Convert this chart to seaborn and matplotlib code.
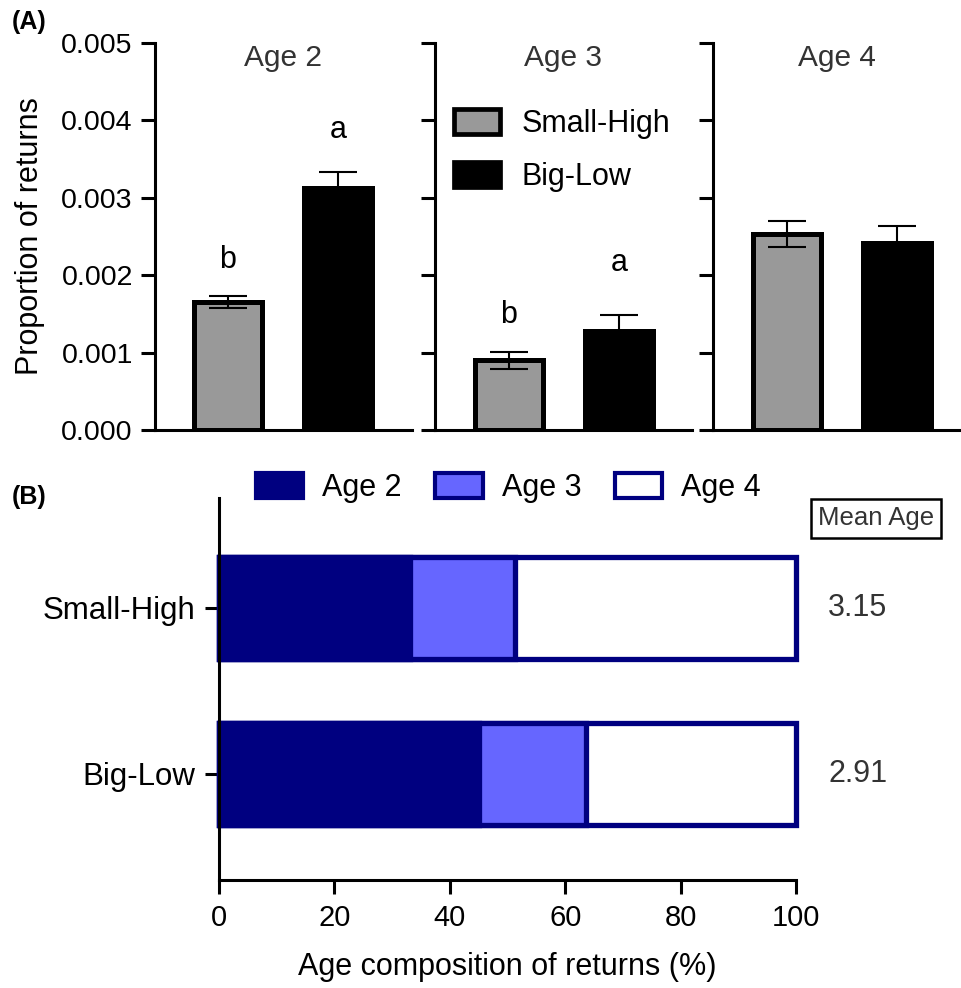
import matplotlib
matplotlib.use("Agg")
import matplotlib.pyplot as plt
from matplotlib.patches import Patch
import seaborn as sns
import pandas as pd

# ---------------- data ----------------
groups = ["Small-High", "Big-Low"]
ages = ["Age 2", "Age 3", "Age 4"]

# Panel A: proportion of returns (mean, SEM) per age class
prop_small_high = [0.00165, 0.00090, 0.00253]
prop_big_low = [0.00313, 0.00128, 0.00242]
sem_small_high = [0.00008, 0.00011, 0.00017]
sem_big_low = [0.00020, 0.00020, 0.00021]
sig_letters = [("b", "a"), ("b", "a"), ("", "")]
letter_y = [(0.00220, 0.00388), (0.00149, 0.00216), (None, None)]

# Panel B: age composition (%)
comp_age2 = [33.1, 45.1]
comp_age3 = [18.2, 18.5]
comp_age4 = [48.7, 36.4]
mean_age = ["3.15", "2.91"]

y_ticks_a = [0.000, 0.001, 0.002, 0.003, 0.004, 0.005]
x_ticks_b = [0, 20, 40, 60, 80, 100]

# ---------------- style ----------------
sns.set_theme(style="ticks")
plt.rcParams["font.family"] = ["Liberation Sans", "DejaVu Sans"]
plt.rcParams["axes.linewidth"] = 2.2
plt.rcParams["axes.edgecolor"] = "black"
plt.rcParams["xtick.color"] = "black"
plt.rcParams["ytick.color"] = "black"
plt.rcParams["text.color"] = "black"
plt.rcParams["axes.labelcolor"] = "black"

W, H = 962, 988
fig = plt.figure(figsize=(W / 100, H / 100), dpi=100)


def rect(x0, y0, x1, y1):
    return [x0 / W, 1 - y1 / H, (x1 - x0) / W, (y1 - y0) / H]


GREY = "#999999"
NAVY = "#000080"
LIGHT = "#6666FF"
TXT = "#333333"

panel_rects = [rect(155, 43, 412, 430), rect(435, 43, 692, 430), rect(713, 43, 960, 430)]
panel_xlims = [(-0.664, 1.673), (-0.673, 1.664), (-0.673, 1.573)]

for i, age in enumerate(ages):
    ax = fig.add_axes(panel_rects[i])
    df = pd.DataFrame({"group": groups,
                       "value": [prop_small_high[i], prop_big_low[i]]})
    sns.barplot(data=df, x="group", y="value", hue="group", order=groups,
                hue_order=groups, palette={"Small-High": GREY, "Big-Low": "black"},
                width=0.62, edgecolor="black", linewidth=3.6, errorbar=None,
                legend=False, ax=ax)
    ax.errorbar([0, 1], [prop_small_high[i], prop_big_low[i]],
                yerr=[sem_small_high[i], sem_big_low[i]], fmt="none",
                ecolor="black", elinewidth=1.5, capsize=13.5, capthick=1.5,
                zorder=5)
    ax.set_xlim(*panel_xlims[i])
    ax.set_ylim(0, 0.005)
    ax.set_yticks(y_ticks_a)
    ax.tick_params(axis="y", length=10, width=2.2, pad=6, labelsize=20.5,
                   color="black", labelcolor="black")
    ax.set_xticks([])
    ax.set_xlabel("")
    sns.despine(ax=ax)
    if i == 0:
        ax.set_yticklabels([f"{t:.3f}" for t in y_ticks_a])
        ax.set_ylabel("Proportion of returns", fontsize=22, labelpad=12,
                      color="black")
    else:
        ax.set_yticklabels([])
        ax.set_ylabel("")
    ax.text(0.5, 0.961, age, transform=ax.transAxes, ha="center", va="center",
            fontsize=21.5, color=TXT)
    for j in range(2):
        if sig_letters[i][j]:
            ax.text(j, letter_y[i][j], sig_letters[i][j], ha="center",
                    va="center", fontsize=22, color="black")
    if i == 1:
        handles_a = [Patch(facecolor=GREY, edgecolor="black", linewidth=3.4),
                     Patch(facecolor="black", edgecolor="black", linewidth=3.4)]
        ax.legend(handles_a, groups, loc="upper left",
                  bbox_to_anchor=(454 / W, 1 - 109 / H),
                  bbox_transform=fig.transFigure, frameon=False, fontsize=22,
                  handlelength=1.5, handleheight=0.85, handletextpad=0.7,
                  labelspacing=0.75, borderpad=0, borderaxespad=0)

# ---------------- panel B ----------------
axb = fig.add_axes(rect(219, 498, 796, 880))
cum3 = [a + b for a, b in zip(comp_age2, comp_age3)]
cum4 = [a + b + c for a, b, c in zip(comp_age2, comp_age3, comp_age4)]
for vals, fc in [(cum4, "white"), (cum3, LIGHT), (comp_age2, NAVY)]:
    sns.barplot(x=vals, y=groups, order=groups, orient="h", color=fc,
                saturation=1, width=0.615, edgecolor=NAVY, linewidth=3.8,
                errorbar=None, ax=axb)
for p in axb.patches:
    p.set_clip_on(False)
axb.set_xlim(0, 100)
axb.set_ylim(1.64, -0.663)
axb.set_xticks(x_ticks_b)
axb.set_xticklabels([str(t) for t in x_ticks_b])
axb.tick_params(axis="both", length=10, width=2.2, pad=7, labelsize=21,
                color="black", labelcolor="black")
axb.tick_params(axis="y", labelsize=22.5)
axb.set_xlabel("Age composition of returns (%)", fontsize=22, labelpad=15,
               color="black")
axb.set_ylabel("")
sns.despine(ax=axb)
for sp in axb.spines.values():
    sp.set_zorder(6)
for j, m in enumerate(mean_age):
    axb.text(110.7, j, m, ha="center", va="center", fontsize=22, color=TXT,
             clip_on=False)
axb.text(113.9, -0.54, "Mean Age", ha="center", va="center", fontsize=18.5,
         color=TXT, clip_on=False,
         bbox=dict(boxstyle="square,pad=0.28", facecolor="white",
                   edgecolor="black", linewidth=1.8))
handles_b = [Patch(facecolor=NAVY, edgecolor=NAVY, linewidth=3),
             Patch(facecolor=LIGHT, edgecolor=NAVY, linewidth=3),
             Patch(facecolor="white", edgecolor=NAVY, linewidth=3)]
axb.legend(handles_b, ages, loc="upper left", ncol=3,
           bbox_to_anchor=(256 / W, 1 - 473 / H), bbox_transform=fig.transFigure,
           frameon=False, fontsize=22, handlelength=1.55, handleheight=0.9,
           handletextpad=0.62, columnspacing=1.1, borderpad=0, borderaxespad=0)

fig.text(12 / W, 1 - 22 / H, "(A)", fontsize=18, fontweight="bold",
         va="center", ha="left", color="black")
fig.text(12 / W, 1 - 497 / H, "(B)", fontsize=18, fontweight="bold",
         va="center", ha="left", color="black")

fig.savefig("out.png", dpi=100, facecolor="white")
